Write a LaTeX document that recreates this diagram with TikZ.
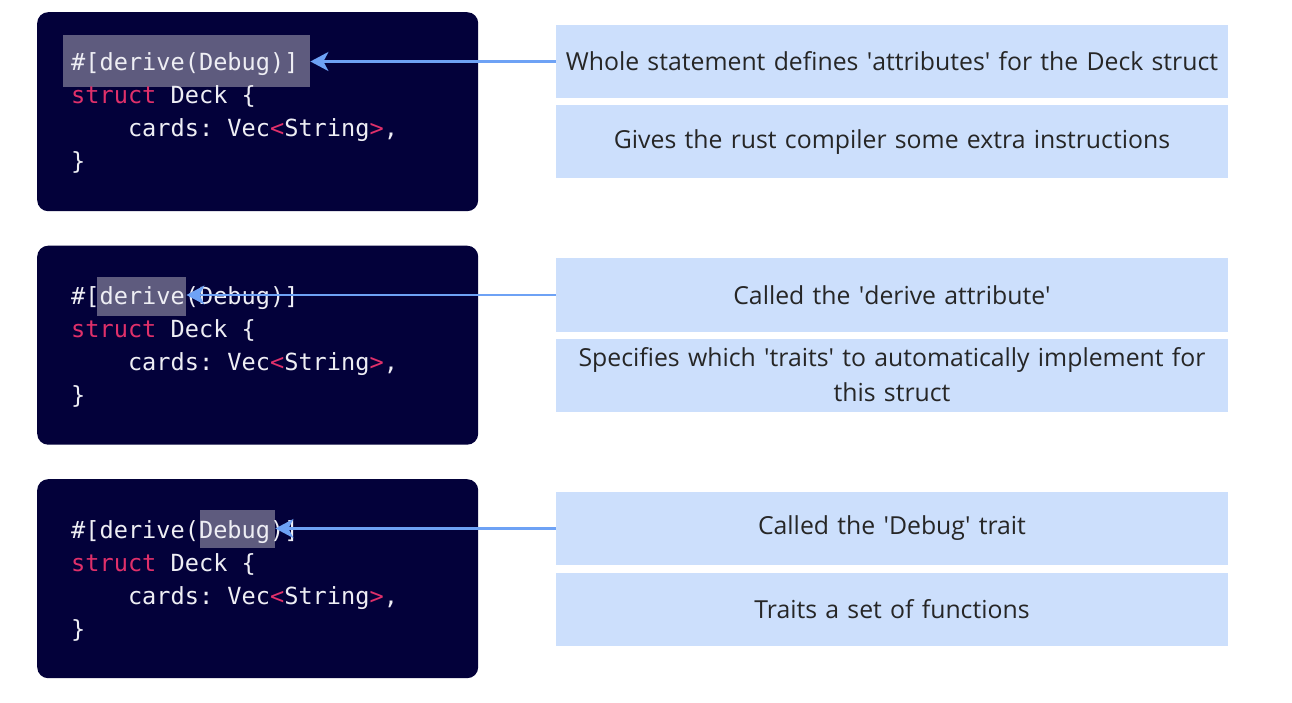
\documentclass[tikz,border=0pt]{standalone}
\usepackage{fontspec}
\setmainfont{Open Sans}
\setmonofont{DejaVu Sans Mono}
\usetikzlibrary{arrows.meta}
\definecolor{codebg}{HTML}{03013A}
\definecolor{codefg}{HTML}{EEEEF4}
\definecolor{keyword}{HTML}{E0306A}
\definecolor{hilite}{HTML}{5E5B7E}
\definecolor{notebg}{HTML}{CCDFFC}
\definecolor{linkblue}{HTML}{6EA2F5}
\newcommand{\kw}[1]{\textcolor{keyword}{#1}}
\newcommand{\q}{\textquotesingle}
\tikzset{
  codebox/.style={fill=codebg,rounded corners=11pt,anchor=north west,minimum width=441pt,minimum height=199pt},
  codeline/.style={anchor=base west,inner sep=0pt,text=codefg,font=\ttfamily\fontsize{23.6}{33}\selectfont},
  mark box/.style={fill=hilite,anchor=north west,inner sep=0pt},
  notebox/.style={fill=notebg,minimum width=672pt,minimum height=73pt,text width=660pt,align=center,text=black!85,font=\fontsize{24.8}{35}\selectfont},
  link/.style={draw=linkblue,line width=2.5pt,-{Stealth[length=18pt,width=19pt,inset=5pt]}}
}
\begin{document}
\begin{tikzpicture}[x=1pt,y=-1pt]
	\useasboundingbox[fill=white] (0,0) rectangle (1292,703);
	% code panels
	\foreach \i/\y in {1/0,2/233.5,3/467}{
		\node[codebox] (code\i) at (37,{12+\y}) {};
	}
	% highlighted parts
	\node[mark box,minimum width=247pt,minimum height=52pt] (attr) at (63,35) {};
	\node[mark box,minimum width=89pt,minimum height=39pt] (derive) at (97,277) {};
	\node[mark box,minimum width=75pt,minimum height=38pt] (debug) at (200,510) {};
	% code text
	\foreach \i/\y in {1/0,2/233.5,3/467}{
		\node[codeline] (l1c\i) at (71,{71+\y}) {\#[derive(Debug)]};
		\node[codeline] (l2c\i) at (71,{104+\y}) {\kw{struct} Deck \{};
		\node[codeline] (l3c\i) at (71,{137+\y}) {\ \ \ \ cards: Vec\kw{<}String\kw{>},};
		\node[codeline] (l4c\i) at (71,{170+\y}) {\}};
	}
	% notes
	\node[notebox] (whole) at (892,61.5) {Whole statement defines \q attributes\q{} for the Deck struct};
	\node[notebox] (gives) at (892,142) {Gives the rust compiler some extra instructions};
	\node[notebox] (called) at (892,295) {Called the \q derive attribute\q};
	\node[notebox] (which) at (892,375) {Specifies which \q traits\q{} to automatically implement for\\ this struct};
	\node[notebox] (trait) at (892,528.5) {Called the \q Debug\q{} trait};
	\node[notebox] (funcs) at (892,609) {Traits a set of functions};
	% arrows
	\draw[link] (whole.west) -- (whole.west -| attr.east);
	\draw[link] (called.west) -- (called.west -| derive.east);
	\draw[link] (trait.west) -- (trait.west -| debug.east);
\end{tikzpicture}
\end{document}
